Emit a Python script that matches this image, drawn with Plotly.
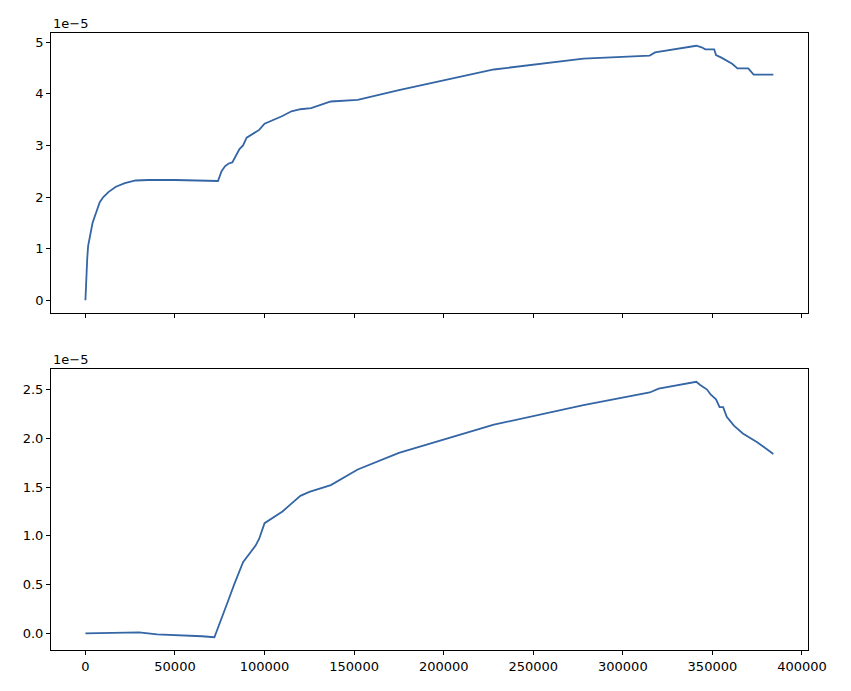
import plotly.graph_objects as go
from plotly.subplots import make_subplots

# top panel (values in units of 1e-5)
x_top = [0, 500, 1000, 1500, 3000, 4000, 6000, 8000, 10000, 13000, 17000, 22000, 28000, 35000,
         50000, 74000, 76000, 78000, 80000, 82000, 84000, 86000, 88000, 90000, 97000, 100000,
         110000, 115000, 120000, 126000, 137000, 152000, 175000, 228000, 278000, 315000, 318000,
         341000, 344000, 346000, 351000, 352000, 355000, 358000, 361000, 364000, 370000, 373000, 384000]
y_top = [0, 0.5, 0.8, 1.05, 1.3, 1.5, 1.7, 1.9, 2.0, 2.1, 2.2, 2.27, 2.32, 2.33,
         2.33, 2.31, 2.5, 2.6, 2.65, 2.67, 2.8, 2.93, 3.0, 3.15, 3.3, 3.42,
         3.57, 3.66, 3.7, 3.72, 3.85, 3.88, 4.07, 4.47, 4.68, 4.74, 4.8,
         4.93, 4.9, 4.86, 4.86, 4.75, 4.7, 4.64, 4.58, 4.49, 4.49, 4.37, 4.37]

# bottom panel
x_bot = [0, 20000, 30000, 40000, 55000, 65000, 72000, 75000, 77000, 80000, 83000, 85000, 88000,
         95000, 97000, 100000, 110000, 115000, 120000, 125000, 137000, 152000, 175000, 228000,
         278000, 315000, 320000, 341000, 343000, 347000, 349000, 352000, 354000, 356000, 358000,
         362000, 367000, 375000, 384000]
y_bot = [0, 0.01, 0.01, -0.01, -0.02, -0.03, -0.04, 0.1, 0.2, 0.35, 0.5, 0.6, 0.73,
         0.9, 0.97, 1.13, 1.25, 1.33, 1.41, 1.45, 1.52, 1.68, 1.85, 2.14,
         2.34, 2.47, 2.51, 2.58, 2.55, 2.5, 2.45, 2.4, 2.32, 2.32, 2.22,
         2.13, 2.05, 1.96, 1.84]

line_color = '#3465a4'

fig = make_subplots(rows=2, cols=1, shared_xaxes=True)
fig.add_trace(go.Scatter(x=x_top, y=y_top, mode='lines', line=dict(color=line_color, width=1.8)), row=1, col=1)
fig.add_trace(go.Scatter(x=x_bot, y=y_bot, mode='lines', line=dict(color=line_color, width=1.8)), row=2, col=1)

axis_style = dict(showgrid=False, zeroline=False, showline=True, linecolor='black', linewidth=1,
                  mirror=True, ticks='outside', ticklen=4, tickcolor='black')
fig.update_xaxes(**axis_style, range=[-19200, 403200], tickvals=list(range(0, 400001, 50000)),
                 tickformat='d')
fig.update_xaxes(showticklabels=False, row=1, col=1)
fig.update_xaxes(domain=[0.0517, 0.9612])
fig.update_yaxes(**axis_style)
fig.update_yaxes(range=[-0.2465, 5.1765], tickvals=[0, 1, 2, 3, 4, 5], domain=[0.5586, 0.9638], row=1, col=1)
fig.update_yaxes(range=[-0.171, 2.711], tickvals=[0, 0.5, 1, 1.5, 2, 2.5], tickformat='.1f',
                 domain=[0.0709, 0.4776], row=2, col=1)

for xref, yref in [('x domain', 'y domain'), ('x2 domain', 'y2 domain')]:
    fig.add_annotation(text='1e\u22125', xref=xref, yref=yref,
                       x=0, y=1, xanchor='left', yanchor='bottom', showarrow=False,
                       font=dict(size=13, color='black'))

fig.update_layout(width=851, height=691, margin=dict(l=0, r=0, t=0, b=0), showlegend=False,
                  plot_bgcolor='white', paper_bgcolor='white',
                  font=dict(family='DejaVu Sans', size=13, color='black'))

fig.write_html("out.html")
